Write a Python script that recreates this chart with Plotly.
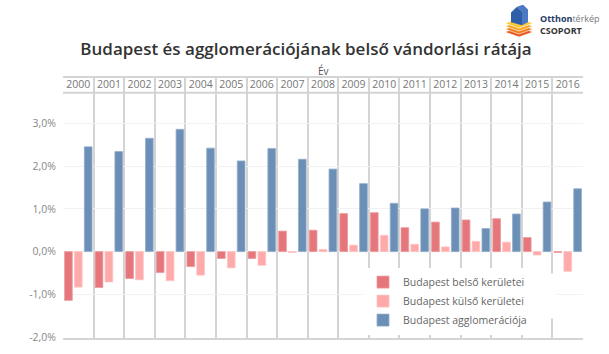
import plotly.graph_objects as go

years = list(range(2000, 2017))
year_labels = [str(y) for y in years]
belso = [-1.14, -0.84, -0.63, -0.49, -0.35, -0.16, -0.16, 0.48, 0.50, 0.89, 0.91, 0.56, 0.69, 0.74, 0.77, 0.33, -0.02]
kulso = [-0.83, -0.71, -0.66, -0.68, -0.55, -0.38, -0.32, -0.02, 0.05, 0.15, 0.38, 0.17, 0.11, 0.24, 0.22, -0.08, -0.46]
agglo = [2.45, 2.34, 2.65, 2.86, 2.42, 2.12, 2.41, 2.16, 1.93, 1.59, 1.13, 1.00, 1.02, 0.54, 0.88, 1.16, 1.47]
series_names = ["Budapest belső kerületei", "Budapest külső kerületei", "Budapest agglomerációja"]
ytick_vals = [-2, -1, 0, 1, 2, 3]
ytick_text = ["-2,0%", "-1,0%", "0,0%", "1,0%", "2,0%", "3,0%"]

W, H = 609, 354
L, R, T, B = 63, 583, 78, 344

def px(x):
    return (x - L) / (R - L)

def py(y):
    return (B - y) / (B - T)

colors = ["#e5767c", "#ffaaaa", "#6b8fb6"]
lines = ["#ec9a9e", "#ffc4c4", "#93aecb"]

fig = go.Figure()
for name, vals, c, lc in zip(series_names, [belso, kulso, agglo], colors, lines):
    fig.add_trace(go.Bar(x=years, y=vals, name=name, marker=dict(color=c, line=dict(color=lc, width=0.8))))

font = "Open Sans"
fig.update_layout(
    width=W, height=H,
    margin=dict(l=L, r=W - R, t=T, b=H - B, pad=0),
    paper_bgcolor="white", plot_bgcolor="white",
    barmode="group", bargap=0.03, bargroupgap=0.22,
    font=dict(family=font, color="#777"),
    title=dict(text="Budapest és agglomerációjának belső vándorlási rátája",
               x=306 / W, xanchor="center", y=1 - 49 / H, yanchor="middle",
               font=dict(family=font, size=17, color="#333", weight=600)),
    xaxis=dict(range=[1999.5, 2016.5], side="top", tickmode="array", tickvals=years, ticktext=year_labels,
               ticklabelposition="inside", ticks="", showgrid=False, zeroline=False,
               tickfont=dict(size=10.5, color="#777"), ticklabelstandoff=2,
               showline=True, linecolor="#d4d4d4", linewidth=2, mirror=True,
               minor=dict(tickmode="linear", tick0=1999.5, dtick=1, showgrid=True, gridcolor="#d4d4d4", gridwidth=2)),
    yaxis=dict(range=[-2.02, 4.06], tickmode="array", tickvals=ytick_vals, ticktext=ytick_text,
               showgrid=True, gridcolor="#f1f1f1", gridwidth=1, zeroline=False,
               tickfont=dict(size=10.5, color="#888"), ticks="", ticklabelstandoff=6,
               showline=False),
    legend=dict(x=px(363), y=py(272), xanchor="left", yanchor="top", bgcolor="white",
                font=dict(size=10.5, color="#666"), itemwidth=30, tracegroupgap=0,
                itemclick=False),
    showlegend=True,
)

# header separator line
fig.add_shape(type="line", xref="paper", yref="paper", x0=0, x1=1, y0=py(93), y1=py(93),
              line=dict(color="#d4d4d4", width=2), layer="above")
# white area behind legend
fig.add_shape(type="rect", xref="paper", yref="paper", x0=px(370), x1=px(556), y0=py(324), y1=py(278),
              fillcolor="white", line=dict(width=0), layer="above")

# axis title
fig.add_annotation(text="Év", xref="paper", yref="paper", x=0.5, y=py(71), yanchor="middle",
                   showarrow=False, font=dict(size=10, color="#555"))

# logo
def poly(pts):
    return "M " + " L ".join(f"{px(a):.5f},{py(b):.5f}" for a, b in pts) + " Z"

for yy, col in [(31, "#e4561b"), (28, "#f07d1e"), (25, "#f6a623"), (22, "#fbc93a")]:
    fig.add_shape(type="path", xref="paper", yref="paper",
                  path=poly([(505, yy), (519, yy - 5), (533, yy), (519, yy + 5)]),
                  fillcolor=col, line=dict(color="white", width=0.6))
fig.add_shape(type="path", xref="paper", yref="paper",
              path=poly([(511, 21), (511, 11), (517, 5), (522, 10), (522, 24)]),
              fillcolor="#2f5ea8", line=dict(width=0))
fig.add_shape(type="path", xref="paper", yref="paper",
              path=poly([(522, 10), (517, 5), (523, 3), (528, 8), (528, 21), (522, 24)]),
              fillcolor="#4a7ac4", line=dict(width=0))
fig.add_annotation(text="<b><span style='color:#1f3b66'>Otthon</span></b><span style='color:#777'>térkép</span><br><b>CSOPORT</b>",
                   xref="paper", yref="paper", x=px(538), y=py(23), xanchor="left", yanchor="middle",
                   align="left", showarrow=False, font=dict(size=9, color="#333"))

fig.write_html("out.html")
